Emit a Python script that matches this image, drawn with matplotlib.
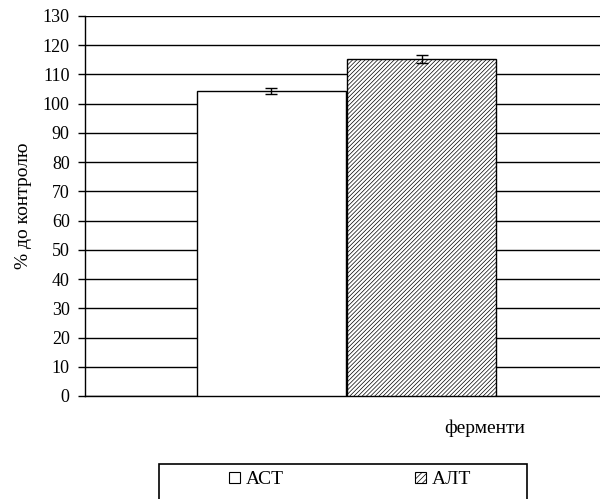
import matplotlib
matplotlib.use("Agg")
import matplotlib.pyplot as plt
from matplotlib.patches import Rectangle, Patch

# дані
ферменти = ["АСТ", "АЛТ"]
значення = [104.2, 115.2]
похибка = [1.0, 1.4]
штрих = ["", "////////"]

plt.rcParams["font.family"] = ["Liberation Serif", "DejaVu Serif"]
plt.rcParams["hatch.linewidth"] = 0.5
plt.rcParams["hatch.color"] = "#444444"

fig = plt.figure(figsize=(6.0, 4.99), dpi=100)
ax = fig.add_axes([85 / 600, 103 / 499, 515 / 600, 380 / 499])

позиції = [0.362, 0.654]
for p, v, e, h in zip(позиції, значення, похибка, штрих):
    ax.bar(p, v, width=0.29, color="white", edgecolor="black", linewidth=1.0,
           hatch=h, zorder=3)
    ax.errorbar(p, v, yerr=e, fmt="none", ecolor="black", elinewidth=1.0,
                capsize=4.3, capthick=1.0, zorder=4)

ax.set_xlim(0, 1)
ax.set_ylim(0, 130)
ax.set_yticks(range(0, 131, 10))
ax.yaxis.grid(True, color="black", linewidth=1.0, zorder=0)
ax.set_xticks([])
for s in ["top", "right"]:
    ax.spines[s].set_visible(False)
ax.spines["left"].set_linewidth(1.0)
ax.spines["bottom"].set_linewidth(1.0)
ax.tick_params(axis="y", length=5, width=1.0, labelsize=13, pad=6)

ax.set_ylabel("% до контролю", fontsize=14, labelpad=8)
fig.text(485 / 600, 1 - 428 / 499, "ферменти", fontsize=14,
         ha="center", va="center")

# рамка легенди (обрізана знизу)
fig.patches.append(Rectangle((159 / 600, -0.05), 368 / 600, 0.05 + 35 / 499,
                             transform=fig.transFigure, fill=False,
                             edgecolor="black", linewidth=1.2))
handles = [Patch(facecolor="white", edgecolor="black", hatch=h.replace("////////", "//////"),
                 linewidth=0.8) for h in штрих]
fig.legend(handles, ферменти, loc="center", bbox_to_anchor=(350 / 600, 1 - 480 / 499),
           ncol=2, frameon=False, fontsize=14, handlelength=0.55, handleheight=0.55,
           handletextpad=0.3, columnspacing=6.75)

fig.savefig("out.png", dpi=100)
